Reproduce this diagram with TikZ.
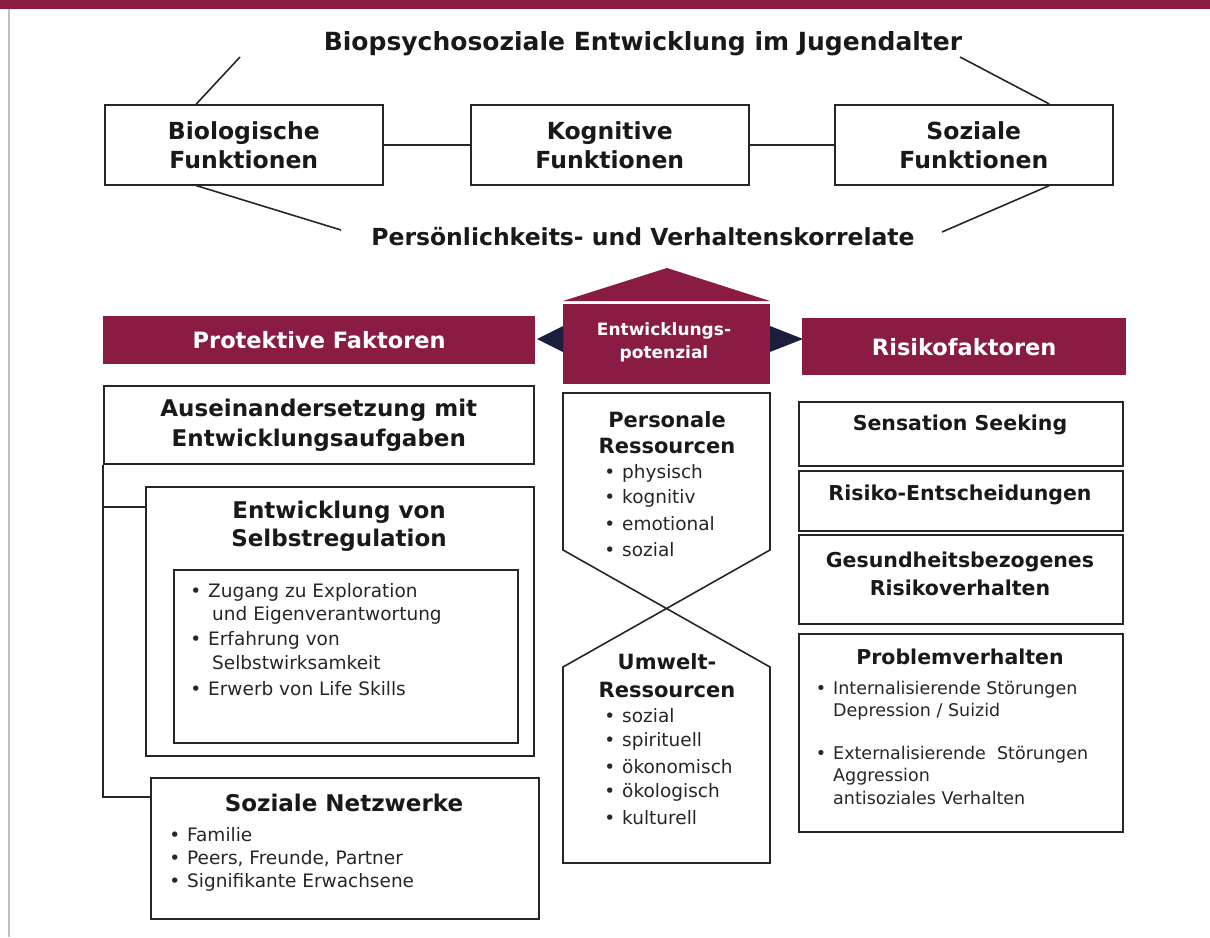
\documentclass[tikz,border=0pt]{standalone}
\usepackage{fontspec}
\setmainfont{DejaVu Sans}
\usetikzlibrary{calc}
\definecolor{bordeaux}{RGB}{138,27,66}
\definecolor{navyblue}{RGB}{28,30,62}
\newcommand{\dotitem}{\llap{\textbullet\hspace{7pt}}}
\newcommand{\fs}[2]{\fontsize{#1}{#2}\selectfont}

\begin{document}
\begin{tikzpicture}[x=1pt,y=-1pt,
	frame/.style={draw=black!85, line width=1.6pt, inner sep=0pt, anchor=north west},
	heading/.style={font=\bfseries\fs{23}{29}, align=center, text=black!90, inner sep=0pt},
	rhead/.style={font=\bfseries\fs{20.5}{28}, align=center, text=black!90, inner sep=0pt},
	entry/.style={font=\fs{18.5}{22}, anchor=west, inner sep=0pt, text=black!85},
	bannerbox/.style={fill=bordeaux, inner sep=0pt, anchor=north west, text=white, font=\bfseries\fs{22.5}{26}},
	link/.style={line width=1.6pt, draw=black!85}]
	\useasboundingbox (0,0) rectangle (1210,937);
	\fill [bordeaux] (0,0) rectangle (1210,9);
	\draw [black!25, line width=2pt] (9,9) -- (9,937);

	\node [heading, font=\bfseries\fs{25}{29}] (title) at (643,44) {Biopsychosoziale Entwicklung im Jugendalter};
	\node [frame, minimum width=278, minimum height=80, heading, font=\bfseries\fs{23.5}{29}] (bio) at (104,104) {Biologische\\Funktionen};
	\node [frame, minimum width=278, minimum height=80, heading, font=\bfseries\fs{23.5}{29}] (kog) at (470,104) {Kognitive\\Funktionen};
	\node [frame, minimum width=278, minimum height=80, heading, font=\bfseries\fs{23.5}{29}] (soz) at (834,104) {Soziale\\Funktionen};
	\node [heading, font=\bfseries\fs{23.5}{29}] (korr) at (643,237) {Persönlichkeits- und Verhaltenskorrelate};
	\draw [link] (bio) -- (kog);
	\draw [link] (kog) -- (soz);
	\coordinate (tl) at (240,57);
	\coordinate (tr) at (960,57);
	\coordinate (bl) at (341,230);
	\coordinate (br) at (942,232);
	\draw [link] (tl) -- ($(bio.north west)!0.33!(bio.north east)$);
	\draw [link] (tr) -- ($(soz.north west)!0.77!(soz.north east)$);
	\draw [link] (bl) -- ($(bio.south west)!0.33!(bio.south east)$);
	\draw [link] (br) -- ($(soz.south west)!0.77!(soz.south east)$);

	\fill [bordeaux] (563,301) -- (667,268) -- (770,301) -- cycle;
	\fill [bordeaux] (563,304) rectangle (770,384);
	\fill [navyblue] (563,326) -- (537,339) -- (563,352) -- cycle;
	\fill [navyblue] (770,326) -- (803,339) -- (770,352) -- cycle;
	\node [text=white, font=\bfseries\fs{17}{23}, align=center] (pot) at (664,342) {Entwicklungs-\\potenzial};
	\node [bannerbox, minimum width=432, minimum height=48] (prot) at (103,316) {Protektive Faktoren};
	\node [bannerbox, minimum width=324, minimum height=57] (risk) at (802,318) {Risikofaktoren};

	\node [frame, minimum width=430, minimum height=78, heading, font=\bfseries\fs{23}{30}] (aus) at (103,385) {Auseinandersetzung mit\\Entwicklungsaufgaben};
	\node [frame, minimum width=388, minimum height=269] (selbst) at (145,486) {};
	\node [heading, font=\bfseries\fs{23}{28}] (selbst-t) at (339,526) {Entwicklung von\\Selbstregulation};
	\node [frame, minimum width=344, minimum height=173] (skills) at (173,569) {};
	\node [entry] (s1) at (208,592) {\dotitem Zugang zu Exploration};
	\node [entry] (s2) at (212,615) {und Eigenverantwortung};
	\node [entry] (s3) at (208,640) {\dotitem Erfahrung von};
	\node [entry] (s4) at (212,663) {Selbstwirksamkeit};
	\node [entry] (s5) at (208,689) {\dotitem Erwerb von Life Skills};
	\node [frame, minimum width=388, minimum height=141] (netz) at (150,777) {};
	\node [heading] (netz-t) at (344,803) {Soziale Netzwerke};
	\foreach \t [count=\i] in {Familie, {Peers, Freunde, Partner}, Signifikante Erwachsene}
		\node [entry] (netz-\i) at (187,{835+23.5*(\i-1)}) {\dotitem \t};
	\draw [link] (aus.south west) |- ($(selbst.north west)+(0,21)$);
	\draw [link] (aus.south west) |- ($(netz.north west)+(0,20)$);

	\draw [link] (563,550) -- (563,393) -- (770,393) -- (770,550) -- (563,667) -- (563,863) -- (770,863) -- (770,667) -- cycle;
	\node [rhead, font=\bfseries\fs{21}{26}] (pers-t) at (667,433) {Personale\\Ressourcen};
	\foreach \t [count=\i] in {physisch, kognitiv, emotional, sozial}
		\node [entry] (pers-\i) at (622,{473+25.5*(\i-1)}) {\dotitem \t};
	\node [rhead, font=\bfseries\fs{21}{28}] (umw-t) at (667,676) {Umwelt-\\Ressourcen};
	\foreach \t [count=\i] in {sozial, spirituell, ökonomisch, ökologisch, kulturell}
		\node [entry] (umw-\i) at (622,{716+25.5*(\i-1)}) {\dotitem \t};

	\node [frame, minimum width=324, minimum height=64] (sens) at (798,401) {};
	\node [rhead] (sens-t) at (960,425) {Sensation Seeking};
	\node [frame, minimum width=324, minimum height=60] (ent) at (798,470) {};
	\node [rhead] (ent-t) at (960,495) {Risiko-Entscheidungen};
	\node [frame, minimum width=324, minimum height=89] (ges) at (798,534) {};
	\node [rhead] (ges-t) at (960,574) {Gesundheitsbezogenes\\Risikoverhalten};
	\node [frame, minimum width=324, minimum height=198] (prob) at (798,633) {};
	\node [rhead] (prob-t) at (960,657) {Problemverhalten};
	\node [entry, font=\fs{17.5}{21}] (p1) at (833,690) {\dotitem Internalisierende Störungen};
	\node [entry, font=\fs{17.5}{21}] (p2) at (833,712) {Depression / Suizid};
	\node [entry, font=\fs{17.5}{21}] (p3) at (833,755) {\dotitem Externalisierende\ \ Störungen};
	\node [entry, font=\fs{17.5}{21}] (p4) at (833,777) {Aggression};
	\node [entry, font=\fs{17.5}{21}] (p5) at (833,798) {antisoziales Verhalten};
\end{tikzpicture}
\end{document}
